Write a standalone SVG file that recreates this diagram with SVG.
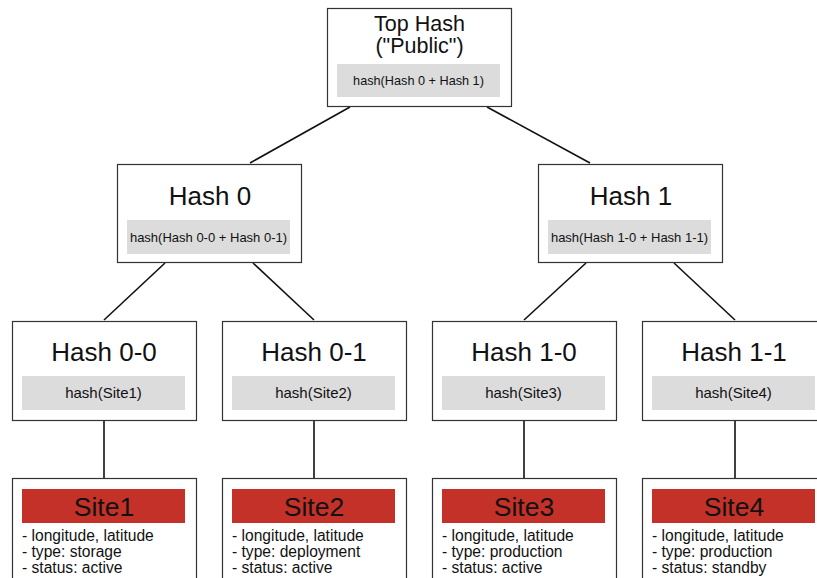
<svg xmlns="http://www.w3.org/2000/svg" width="817" height="578" viewBox="0 0 817 578">
<style>
.box{fill:#fff;stroke:#333;stroke-width:1.2}
.gray{fill:#dcdcdd}
.red{fill:#c33128}
.t{font-family:"Liberation Sans",Arial,sans-serif;fill:#111;text-anchor:middle}
.title{font-size:26px}
.top{font-size:21.5px}
.sub{font-size:12.7px}
.sub2{font-size:13px}
.sub3{font-size:15px}
.site{font-size:26.5px}
.list{font-family:"Liberation Sans",Arial,sans-serif;fill:#111;font-size:15.6px}
.edge{stroke:#111;stroke-width:1.6;fill:none}
</style>
<rect width="817" height="578" fill="#fff"/>
<g id="connectors">
<line class="edge" x1="350" y1="107" x2="250" y2="163"/>
<line class="edge" x1="487" y1="107" x2="590" y2="163"/>
<line class="edge" x1="165" y1="263" x2="104" y2="320"/>
<line class="edge" x1="253" y1="263" x2="314" y2="320"/>
<line class="edge" x1="586" y1="263" x2="524" y2="320"/>
<line class="edge" x1="674" y1="263" x2="735" y2="320"/>
<line class="edge" x1="104" y1="421" x2="104" y2="478"/>
<line class="edge" x1="314" y1="421" x2="314" y2="478"/>
<line class="edge" x1="524" y1="421" x2="524" y2="478"/>
<line class="edge" x1="735" y1="421" x2="735" y2="478"/>
</g>
<g id="top">
<rect class="box" x="327.5" y="8.5" width="184" height="98"/>
<text class="t top" x="419.5" y="31">Top Hash</text>
<text class="t top" x="419.5" y="53">("Public")</text>
<rect class="gray" x="337" y="64" width="163" height="33"/>
<text class="t sub" x="418.5" y="85">hash(Hash 0 + Hash 1)</text>
</g>
<g id="hash0">
<rect class="box" x="117.5" y="164.5" width="184" height="98"/>
<text class="t title" x="210" y="205">Hash 0</text>
<rect class="gray" x="127" y="220" width="163" height="34"/>
<text class="t sub2" x="208.5" y="242">hash(Hash 0-0 + Hash 0-1)</text>
</g>
<g id="hash1">
<rect class="box" x="538.5" y="164.5" width="184" height="98"/>
<text class="t title" x="631" y="205">Hash 1</text>
<rect class="gray" x="548" y="220" width="163" height="34"/>
<text class="t sub2" x="629.5" y="242">hash(Hash 1-0 + Hash 1-1)</text>
</g>
<g id="hash00">
<rect class="box" x="12.5" y="321.5" width="184" height="99"/>
<text class="t title" x="104" y="361">Hash 0-0</text>
<rect class="gray" x="22" y="376" width="163" height="34"/>
<text class="t sub3" x="103.5" y="398">hash(Site1)</text>
</g>
<g id="hash01">
<rect class="box" x="222.5" y="321.5" width="184" height="99"/>
<text class="t title" x="314" y="361">Hash 0-1</text>
<rect class="gray" x="232" y="376" width="163" height="34"/>
<text class="t sub3" x="313.5" y="398">hash(Site2)</text>
</g>
<g id="hash10">
<rect class="box" x="432.5" y="321.5" width="184" height="99"/>
<text class="t title" x="524" y="361">Hash 1-0</text>
<rect class="gray" x="442" y="376" width="163" height="34"/>
<text class="t sub3" x="523.5" y="398">hash(Site3)</text>
</g>
<g id="hash11">
<rect class="box" x="642.5" y="321.5" width="184" height="99"/>
<text class="t title" x="734" y="361">Hash 1-1</text>
<rect class="gray" x="652" y="376" width="163" height="34"/>
<text class="t sub3" x="733.5" y="398">hash(Site4)</text>
</g>
<g id="site1">
<rect class="box" x="12.5" y="478.5" width="184" height="110"/>
<rect class="red" x="22" y="489" width="163" height="34"/>
<text class="t site" x="104" y="516">Site1</text>
<text class="list" x="22" y="541">- longitude, latitude</text>
<text class="list" x="22" y="557">- type: storage</text>
<text class="list" x="22" y="573">- status: active</text>
</g>
<g id="site2">
<rect class="box" x="222.5" y="478.5" width="184" height="110"/>
<rect class="red" x="232" y="489" width="163" height="34"/>
<text class="t site" x="314" y="516">Site2</text>
<text class="list" x="232" y="541">- longitude, latitude</text>
<text class="list" x="232" y="557">- type: deployment</text>
<text class="list" x="232" y="573">- status: active</text>
</g>
<g id="site3">
<rect class="box" x="432.5" y="478.5" width="184" height="110"/>
<rect class="red" x="442" y="489" width="163" height="34"/>
<text class="t site" x="524" y="516">Site3</text>
<text class="list" x="442" y="541">- longitude, latitude</text>
<text class="list" x="442" y="557">- type: production</text>
<text class="list" x="442" y="573">- status: active</text>
</g>
<g id="site4">
<rect class="box" x="642.5" y="478.5" width="184" height="110"/>
<rect class="red" x="652" y="489" width="163" height="34"/>
<text class="t site" x="734" y="516">Site4</text>
<text class="list" x="652" y="541">- longitude, latitude</text>
<text class="list" x="652" y="557">- type: production</text>
<text class="list" x="652" y="573">- status: standby</text>
</g>
</svg>
